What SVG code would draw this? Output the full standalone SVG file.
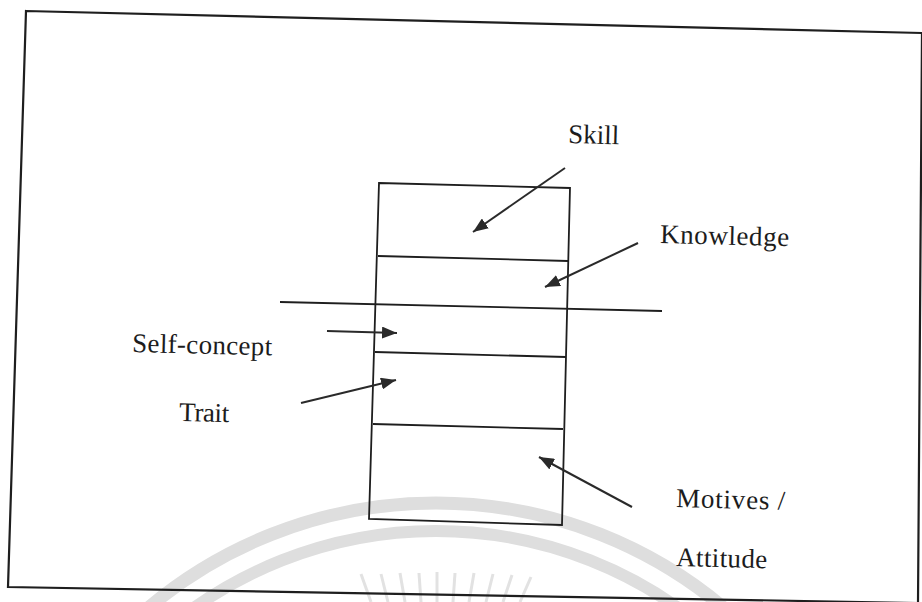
<svg xmlns="http://www.w3.org/2000/svg" width="922" height="602" viewBox="0 0 922 602">
  <style>
    .frame { fill: none; stroke: #1e1e1e; stroke-width: 2.2; stroke-linejoin: miter; }
    .box { fill: none; stroke: #1e1e1e; stroke-width: 1.8; }
    .rule { stroke: #1e1e1e; stroke-width: 1.8; fill: none; }
    .arrow { stroke: #2a2a2a; stroke-width: 2; fill: none; marker-end: url(#head); }
    .label { font-family: "Liberation Serif", "Times New Roman", serif; font-size: 27px; fill: #1c1c1c; }
    .wm { fill: none; stroke: #dedede; }
  </style>
  <defs>
    <marker id="head" markerUnits="userSpaceOnUse" markerWidth="16" markerHeight="12" refX="15" refY="6" orient="auto">
      <path d="M0,0 L15,6 L0,12 z" fill="#2a2a2a"/>
    </marker>
  </defs>

  <rect x="0" y="0" width="922" height="602" fill="#ffffff"/>

  <!-- faint background emblem -->
  <g id="emblem">
    <circle class="wm" cx="436" cy="950" r="447" stroke-width="13"/>
    <circle class="wm" cx="436" cy="950" r="419" stroke-width="12"/>
    <g stroke="#e2e2e2" stroke-width="3">
      <line x1="371" y1="602" x2="361" y2="574"/>
      <line x1="388" y1="602" x2="381" y2="574"/>
      <line x1="405" y1="602" x2="400" y2="573"/>
      <line x1="421" y1="602" x2="419" y2="573"/>
      <line x1="437" y1="602" x2="437" y2="572"/>
      <line x1="453" y1="602" x2="455" y2="573"/>
      <line x1="469" y1="602" x2="474" y2="573"/>
      <line x1="486" y1="602" x2="493" y2="574"/>
      <line x1="503" y1="602" x2="512" y2="575"/>
      <line x1="520" y1="602" x2="531" y2="577"/>
    </g>
  </g>

  <!-- outer frame -->
  <g id="frame">
    <polygon class="frame" points="26,11 922,33 918,603 8,587"/>
  </g>

  <!-- layered column -->
  <g id="column">
    <polygon class="box" points="379,183 570,188 562,525 369,519"/>
    <line class="rule" x1="378" y1="256" x2="568" y2="261"/>
    <line class="rule" x1="375" y1="352" x2="566" y2="357"/>
    <line class="rule" x1="373" y1="424" x2="563" y2="429"/>
  </g>

  <!-- visibility line -->
  <g id="waterline">
    <line class="rule" x1="280" y1="302" x2="662" y2="311"/>
  </g>

  <g id="skill">
    <text class="label" x="568" y="143" textLength="51" lengthAdjust="spacing" transform="rotate(1.4 568 143)">Skill</text>
  </g>
  <g id="knowledge">
    <text class="label" x="660" y="243" textLength="129" lengthAdjust="spacing" transform="rotate(1.4 660 243)">Knowledge</text>
  </g>
  <g id="self-concept">
    <text class="label" x="132" y="352" textLength="140" lengthAdjust="spacing" transform="rotate(1.4 132 352)">Self-concept</text>
  </g>
  <g id="trait">
    <text class="label" x="179" y="421" textLength="50" lengthAdjust="spacing" transform="rotate(1.4 179 421)">Trait</text>
  </g>
  <g id="motives">
    <text class="label" x="676" y="507" textLength="109" lengthAdjust="spacing" transform="rotate(1.4 676 507)">Motives /</text>
    <text class="label" x="676" y="566" textLength="91" lengthAdjust="spacing" transform="rotate(1.4 676 566)">Attitude</text>
  </g>

  <!-- pointers -->
  <g id="connectors">
    <line class="arrow" x1="565" y1="168" x2="473" y2="232"/>
    <line class="arrow" x1="638" y1="243" x2="545" y2="287"/>
    <line class="arrow" x1="327" y1="331" x2="397" y2="333"/>
    <line class="arrow" x1="301" y1="403" x2="396" y2="380"/>
    <line class="arrow" x1="632" y1="507" x2="539" y2="457"/>
  </g>
</svg>
